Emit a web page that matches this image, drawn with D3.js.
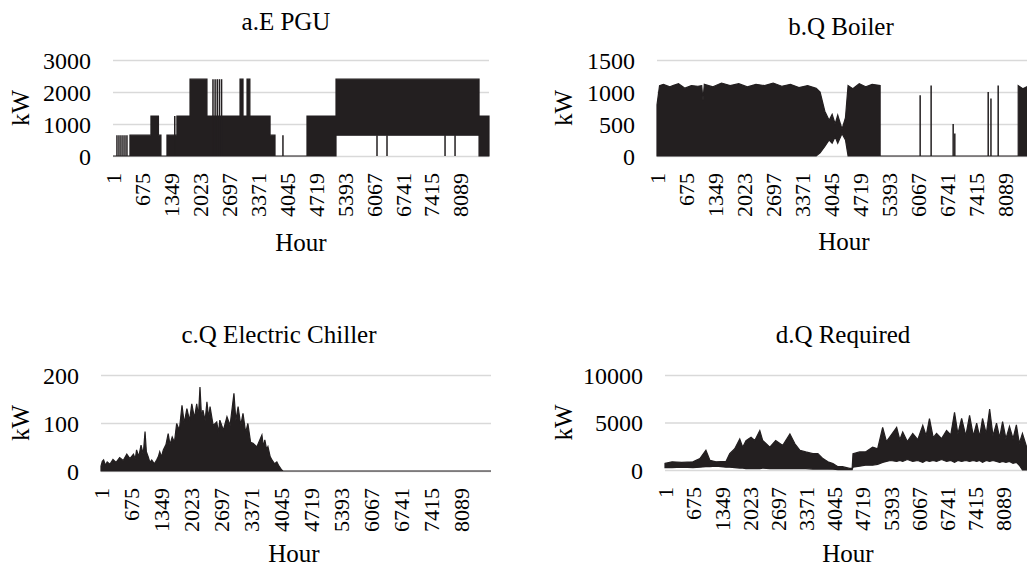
<!DOCTYPE html>
<html>
<head>
<meta charset="utf-8">
<script src="https://cdn.jsdelivr.net/npm/d3@7"></script>
<style>
  body { margin: 0; background: #fff; }
  text { font-family: "Liberation Serif", "Times New Roman", serif; fill: #000; }
</style>
</head>
<body>
<script>
// hour axis labels (every 674th hour, like the Excel category axis)
var hourTicks = [1, 675, 1349, 2023, 2697, 3371, 4045, 4719, 5393, 6067, 6741, 7415, 8089];

// a. E PGU  (step blocks: start hour, low, high)
var pguHours = [1, 396, 885, 1060, 1118, 1258, 1490, 1795, 2190, 2305, 2563, 2960, 3030, 3123, 3190, 3660, 3775, 4520, 5196, 8528, 8760];
var pguLow   = [0, 0, 0, 0, 0, 0, 0, 0, 0, 0, 0, 0, 0, 0, 0, 0, 0, 0, 650, 0, 0];
var pguHigh  = [0, 650, 1250, 650, 0, 650, 1250, 2400, 1250, 1250, 1250, 2400, 1250, 2400, 1250, 650, 0, 1250, 2400, 1250, 1250];
var pguSpikeHours  = [93, 140, 186, 233, 280, 326, 1290, 1440, 2330, 2380, 2430, 2480, 2530, 3960, 6151, 6384, 7736, 7969];
var pguSpikeValues = [650, 650, 650, 650, 650, 650, 650, 1250, 2400, 2400, 2400, 2400, 2400, 650, 650, 650, 650, 650];

// b. Q Boiler (band: low and high)
var boilerHours = [1, 60, 150, 300, 370, 500, 650, 800, 950, 1040, 1070, 1100, 1300, 1500, 1700, 1900, 2100, 2300, 2500, 2700, 2900, 3100, 3300, 3500, 3700, 3790, 3900, 4000, 4070, 4140, 4200, 4300, 4380, 4440, 4550, 4700, 4850, 5000, 5185, 5185, 8393, 8393, 8500, 8650, 8760];
var boilerHigh  = [800, 1100, 1120, 1080, 1100, 1130, 1060, 1100, 1090, 1100, 870, 1120, 1080, 1140, 1100, 1130, 1080, 1120, 1100, 1140, 1090, 1120, 1070, 1100, 1060, 1000, 700, 560, 650, 500, 640, 420, 600, 1100, 1050, 1130, 1080, 1120, 1100, 0, 0, 1100, 1050, 1100, 1100];
var boilerLow   = [0, 0, 0, 0, 0, 0, 0, 0, 0, 0, 0, 0, 0, 0, 0, 0, 0, 0, 0, 0, 0, 0, 0, 0, 0, 50, 150, 250, 200, 300, 200, 350, 250, 0, 0, 0, 0, 0, 0, 0, 0, 0, 0, 0, 0];
var boilerSpikeHours  = [6115, 6370, 6882, 6920, 7696, 7760, 7928];
var boilerSpikeValues = [950, 1100, 500, 350, 1000, 900, 1100];

// c. Q Electric Chiller (outline of peaks and dips)
var chillerHours  = [1, 30, 60, 100, 140, 200, 270, 340, 420, 500, 580, 650, 730, 770, 800, 850, 900, 950, 990, 1020, 1060, 1100, 1140, 1200, 1250, 1290, 1320, 1360, 1400, 1460, 1510, 1550, 1600, 1650, 1700, 1760, 1820, 1870, 1930, 1990, 2040, 2100, 2150, 2190, 2224, 2260, 2290, 2340, 2380, 2420, 2450, 2520, 2600, 2640, 2670, 2750, 2830, 2900, 2987, 3030, 3080, 3140, 3190, 3250, 3300, 3360, 3415, 3500, 3615, 3650, 3680, 3720, 3750, 3800, 3840, 3900, 3950, 4000, 4060, 4090, 8760];
var chillerValues = [10, 20, 23, 12, 19, 14, 24, 18, 28, 22, 35, 26, 35, 25, 44, 30, 54, 35, 82, 40, 30, 18, 23, 15, 23, 30, 40, 30, 44, 55, 78, 55, 71, 60, 99, 85, 137, 100, 130, 105, 140, 110, 140, 115, 175, 110, 127, 105, 144, 110, 134, 95, 102, 80, 106, 85, 113, 95, 162, 105, 134, 95, 120, 80, 99, 60, 58, 50, 75, 50, 65, 45, 51, 30, 23, 15, 19, 10, 2, 0, 0];

// d. Q Required (band: low and high)
var reqHours = [1, 170, 400, 670, 836, 980, 1075, 1220, 1460, 1550, 1670, 1790, 1860, 1940, 2060, 2150, 2270, 2340, 2510, 2650, 2820, 2990, 3110, 3230, 3370, 3540, 3660, 3780, 3900, 4020, 4140, 4250, 4420, 4480, 4500, 4660, 4800, 4970, 5090,
  5210, 5300, 5400, 5545, 5620, 5690, 5800, 5930, 6050, 6170, 6250, 6330, 6420, 6500, 6620, 6740, 6840, 6930, 7010, 7100, 7200, 7290, 7380, 7460, 7530, 7600, 7690, 7770, 7850, 7935, 8010, 8080, 8160, 8245, 8330, 8410, 8480, 8555, 8650, 8760];
var reqHigh = [690, 860, 800, 860, 1200, 2070, 1030, 860, 900, 1720, 2240, 3270, 2400, 3100, 3450, 3100, 4140, 3100, 2410, 3100, 2590, 3800, 2760, 2070, 1900, 1720, 1720, 1200, 860, 690, 345, 345, 170, 170, 1720, 1900, 1900, 2410, 2240,
  4480, 3000, 3600, 4480, 3200, 3990, 3000, 3850, 3200, 4690, 3600, 5420, 3400, 3850, 3300, 4170, 3700, 6080, 3800, 5420, 3600, 5760, 3600, 4930, 3500, 5420, 3800, 6420, 3600, 4930, 3400, 5100, 3300, 4590, 3300, 4760, 2800, 3850, 2500, 2000];
var reqLow = [250, 250, 300, 250, 300, 350, 350, 400, 300, 300, 250, 200, 200, 150, 150, 150, 150, 200, 150, 150, 150, 150, 150, 150, 150, 100, 100, 100, 100, 80, 50, 50, 30, 30, 300, 400, 500, 500, 600,
  800, 900, 1000, 900, 1000, 900, 1100, 900, 1000, 800, 1000, 900, 1000, 900, 1100, 900, 1000, 800, 1000, 900, 1000, 900, 1000, 900, 1000, 800, 1000, 900, 1000, 900, 800, 900, 800, 900, 700, 800, 500, 0, 0, 200];

var svgWidth = 1027;
var svgHeight = 568;
var ink = "#231f20";

var svg = d3.select("body").append("svg")
    .attr("width", svgWidth)
    .attr("height", svgHeight);

var panels = [
  { title: "a.E PGU", titleX: 286, titleY: 30, x0: 113, x1: 489, yTop: 60, yBot: 156, yMax: 3000, yTicks: [0, 1000, 2000, 3000],
    kwX: 20, hourX: 301, hourY: 251, step: true, hours: pguHours, low: pguLow, high: pguHigh, spikeH: pguSpikeHours, spikeV: pguSpikeValues },
  { title: "b.Q Boiler", titleX: 841, titleY: 35, x0: 657, x1: 1034, yTop: 60, yBot: 156, yMax: 1500, yTicks: [0, 500, 1000, 1500],
    kwX: 563, hourX: 844, hourY: 250, step: false, hours: boilerHours, low: boilerLow, high: boilerHigh, spikeH: boilerSpikeHours, spikeV: boilerSpikeValues },
  { title: "c.Q Electric Chiller", titleX: 279, titleY: 343, x0: 101, x1: 491, yTop: 375, yBot: 471, yMax: 200, yTicks: [0, 100, 200],
    kwX: 20, hourX: 294, hourY: 562, step: false, hours: chillerHours, low: chillerHours.map(function() { return 0; }), high: chillerValues, spikeH: [], spikeV: [] },
  { title: "d.Q Required", titleX: 843, titleY: 343, x0: 665, x1: 1031, yTop: 375, yBot: 470, yMax: 10000, yTicks: [0, 5000, 10000],
    kwX: 563, hourX: 848, hourY: 562, step: false, hours: reqHours, low: reqLow, high: reqHigh, spikeH: [], spikeV: [] }
];

panels.forEach(drawPanel);

function drawPanel(p) {
  var g = svg.append("g");

  var x = d3.scaleLinear().domain([1, 8760]).range([p.x0, p.x1]);
  var y = d3.scaleLinear().domain([0, p.yMax]).range([p.yBot, p.yTop]);

  // gridlines + value labels
  var yAxis = g.append("g")
      .attr("transform", `translate(${p.x0},0)`)
      .call(d3.axisLeft(y).tickValues(p.yTicks).tickSize(-(p.x1 - p.x0)).tickPadding(22).tickFormat(d3.format("d")));
  yAxis.select(".domain").remove();
  yAxis.selectAll("line").attr("stroke", "#d9d9d9").attr("stroke-width", 1.5);
  yAxis.selectAll("text").style("font-size", "24px").attr("dy", "0.34em");

  // the series
  var rows = p.hours.map(function(h, i) { return { h: h, lo: p.low[i], hi: p.high[i] }; });
  var area = d3.area()
      .x(function(d) { return x(d.h); })
      .y0(function(d) { return y(d.lo); })
      .y1(function(d) { return y(d.hi); })
      .curve(p.step ? d3.curveStepAfter : d3.curveLinear);

  g.append("path")
      .datum(rows)
      .attr("d", area)
      .attr("fill", ink)
      .attr("stroke", ink)
      .attr("stroke-width", 1.2);

  g.selectAll(".spike")
      .data(p.spikeH.map(function(h, i) { return { h: h, v: p.spikeV[i] }; }))
      .enter()
      .append("line")
      .attr("class", "spike")
      .attr("x1", function(d) { return x(d.h); })
      .attr("x2", function(d) { return x(d.h); })
      .attr("y1", y(0))
      .attr("y2", function(d) { return y(d.v); })
      .attr("stroke", ink)
      .attr("stroke-width", 1.5);

  // hour labels
  var xAxis = g.append("g")
      .attr("transform", `translate(0,${p.yBot})`)
      .call(d3.axisBottom(x).tickValues(hourTicks).tickSize(0).tickFormat(d3.format("d")));
  xAxis.select(".domain").remove();
  xAxis.selectAll("text")
      .style("font-size", "22px")
      .attr("transform", "rotate(-90)")
      .attr("text-anchor", "end")
      .attr("x", -17)
      .attr("y", 0)
      .attr("dy", "0.35em");

  // titles
  g.append("text")
      .attr("x", p.titleX)
      .attr("y", p.titleY)
      .attr("text-anchor", "middle")
      .style("font-size", "25px")
      .text(p.title);

  g.append("text")
      .attr("x", p.hourX)
      .attr("y", p.hourY)
      .attr("text-anchor", "middle")
      .style("font-size", "25px")
      .text("Hour");

  g.append("text")
      .attr("transform", `translate(${p.kwX},${(p.yTop + p.yBot) / 2}) rotate(-90)`)
      .attr("text-anchor", "middle")
      .attr("dy", "0.35em")
      .style("font-size", "25px")
      .text("kW");
}
</script>
</body>
</html>
